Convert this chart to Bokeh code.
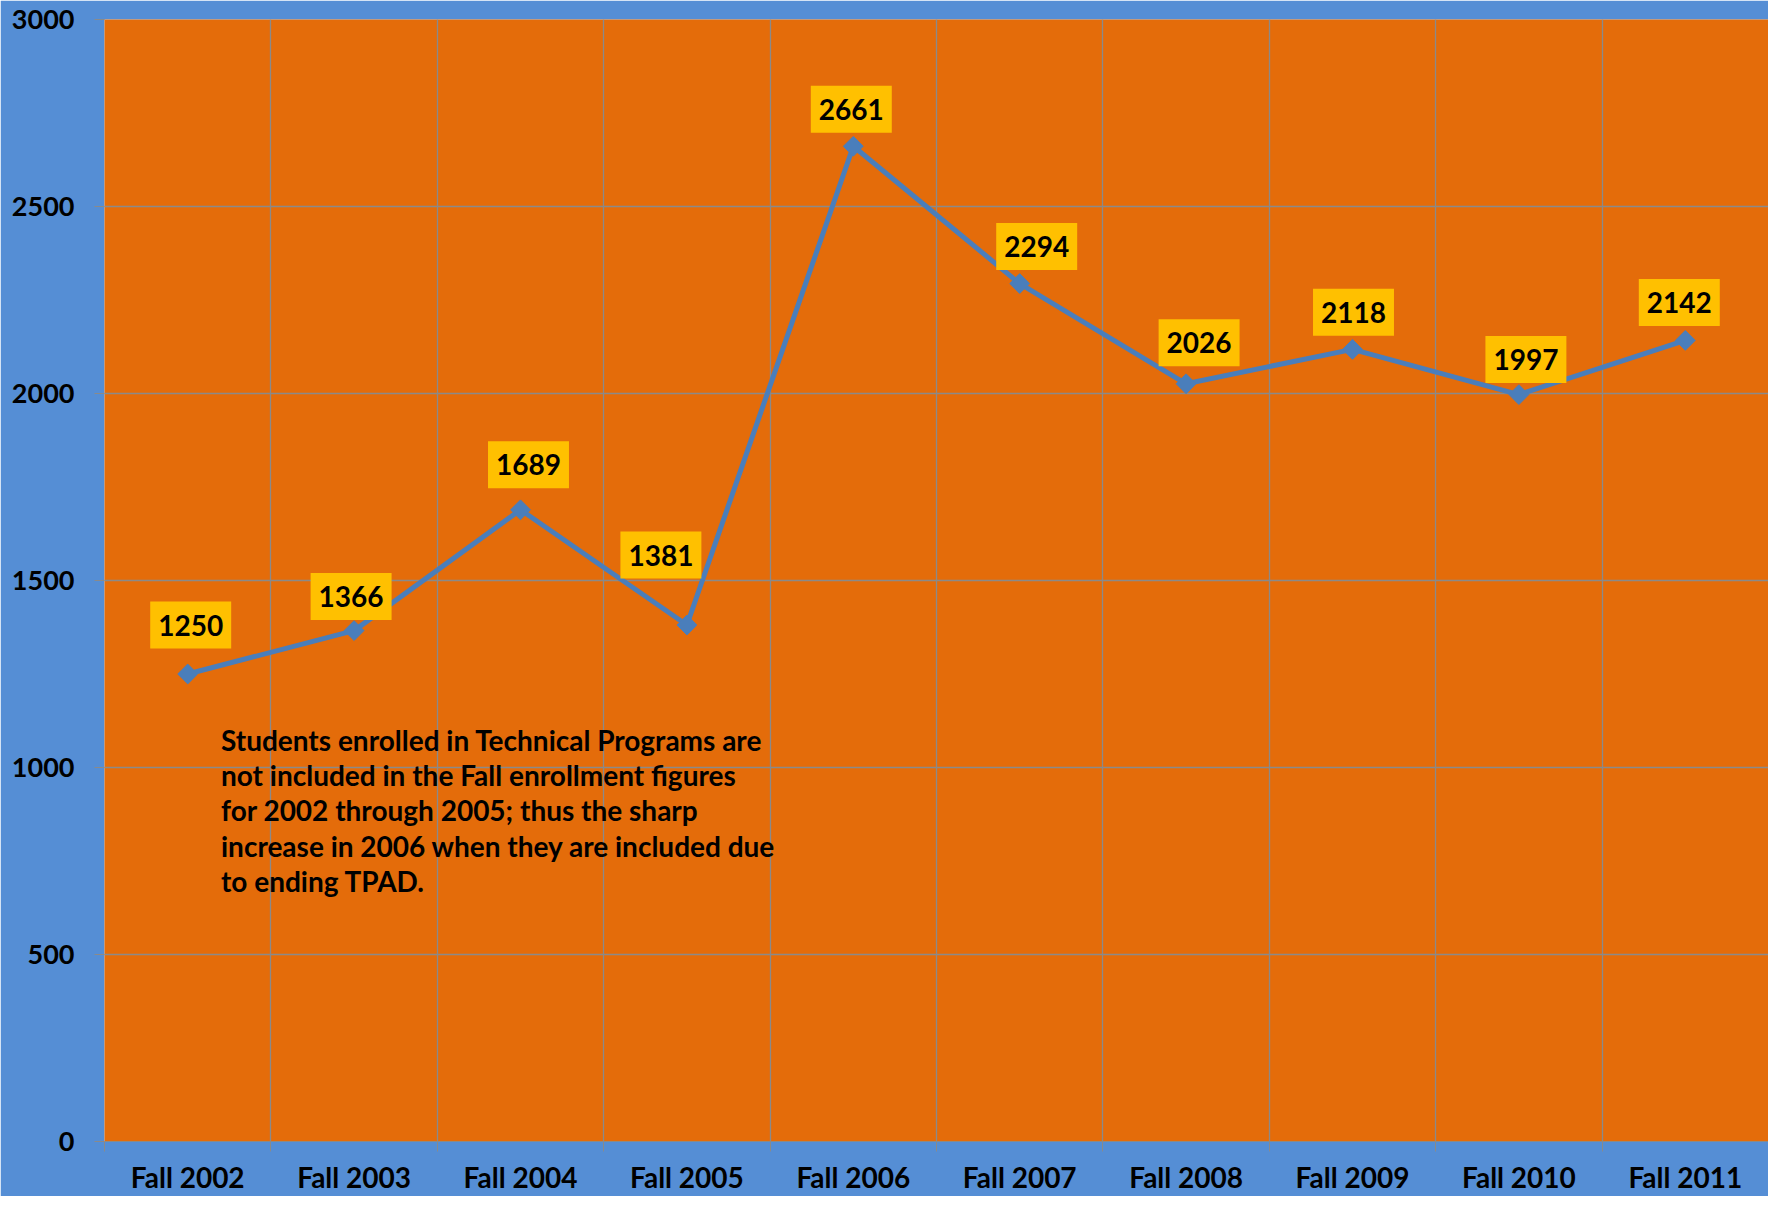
import math
from bokeh.plotting import figure
from bokeh.models import ColumnDataSource, Label, FixedTicker, Range1d
from bokeh.core.properties import value
from bokeh.embed import file_html
from bokeh.resources import INLINE

categories = ["Fall 2002", "Fall 2003", "Fall 2004", "Fall 2005", "Fall 2006",
              "Fall 2007", "Fall 2008", "Fall 2009", "Fall 2010", "Fall 2011"]
enrollment = [1250, 1366, 1689, 1381, 2661, 2294, 2026, 2118, 1997, 2142]
y_ticks = [0, 500, 1000, 1500, 2000, 2500, 3000]
note_text = ("Students enrolled in Technical Programs are\n"
             "not included in the Fall enrollment figures\n"
             "for 2002 through 2005; thus the sharp\n"
             "increase in 2006 when they are included due\n"
             "to ending TPAD.")

# label placement offsets (screen px, y positive = up), style only
label_dx = [3, -3, 8, -26, -2, 17, 13, 1, 7, -6]
label_dy = [49, 34, 45, 70, 37, 37, 41, 37, 35, 38]

FONT = "Lato"
BLUE_BG = "#558ED5"
ORANGE = "#E46C0A"
LINE = "#4A7EBB"
GRID = "#8A8A8A"

n = len(categories)
xc = [2 * i + 1 for i in range(n)]          # category centres
bounds = [2 * i for i in range(n + 1)]      # category boundaries

src = ColumnDataSource(dict(x=xc, y=enrollment, txt=[str(v) for v in enrollment],
                            dx=label_dx, dy=[-d for d in label_dy]))

p = figure(width=1768, height=1193, output_backend="svg", toolbar_location=None,
           x_range=Range1d(0, 2 * n), y_range=Range1d(0, 3000),
           min_border_left=104, min_border_right=0, min_border_top=19, min_border_bottom=52)
p.frame_width = 1664
p.frame_height = 1122
p.border_fill_color = BLUE_BG
p.background_fill_color = ORANGE
p.outline_line_color = None

# axes
p.xaxis.ticker = FixedTicker(ticks=xc, minor_ticks=bounds)
p.xaxis.major_label_overrides = {c: lab for c, lab in zip(xc, categories)}
p.xaxis.major_tick_line_color = None
p.xaxis.minor_tick_out = 10
p.xaxis.minor_tick_in = 0
p.xaxis.minor_tick_line_color = GRID
p.xaxis.axis_line_color = GRID
p.xaxis.major_label_standoff = 8
p.xaxis.major_label_text_font_size = "28px"

p.yaxis.ticker = FixedTicker(ticks=y_ticks)
p.yaxis.minor_tick_line_color = None
p.yaxis.major_tick_out = 10
p.yaxis.major_tick_in = 0
p.yaxis.major_tick_line_color = GRID
p.yaxis.axis_line_color = None
p.yaxis.major_label_standoff = 20
p.yaxis.major_label_text_font_size = "27px"

for ax in (p.xaxis[0], p.yaxis[0]):
    ax.major_label_text_font = FONT
    ax.major_label_text_font_style = "bold"
    ax.major_label_text_color = "black"

p.xgrid.ticker = FixedTicker(ticks=bounds)
p.ygrid.ticker = FixedTicker(ticks=y_ticks)
for g in (p.xgrid[0], p.ygrid[0]):
    g.grid_line_color = GRID
    g.grid_line_width = 1.3

p.line("x", "y", source=src, line_color=LINE, line_width=5)
p.scatter("x", "y", source=src, marker="square", angle=math.pi / 4, size=14,
          fill_color=LINE, line_color=LINE)

p.text("x", "y", text="txt", source=src, x_offset="dx", y_offset="dy",
       text_align="center", text_baseline="middle",
       text_font=value(FONT), text_font_style="bold", text_font_size="28px",
       text_color="black", background_fill_color="#FFC000",
       padding=dict(left=8, right=8, top=13, bottom=13))

note = Label(x=1.40, y=1120, text=note_text, text_align="left", text_baseline="top",
             text_font=FONT, text_font_style="bold", text_font_size="28px",
             text_line_height=1.04, text_color="black")
p.add_layout(note)

open("out.html", "w").write(file_html(p, INLINE))
